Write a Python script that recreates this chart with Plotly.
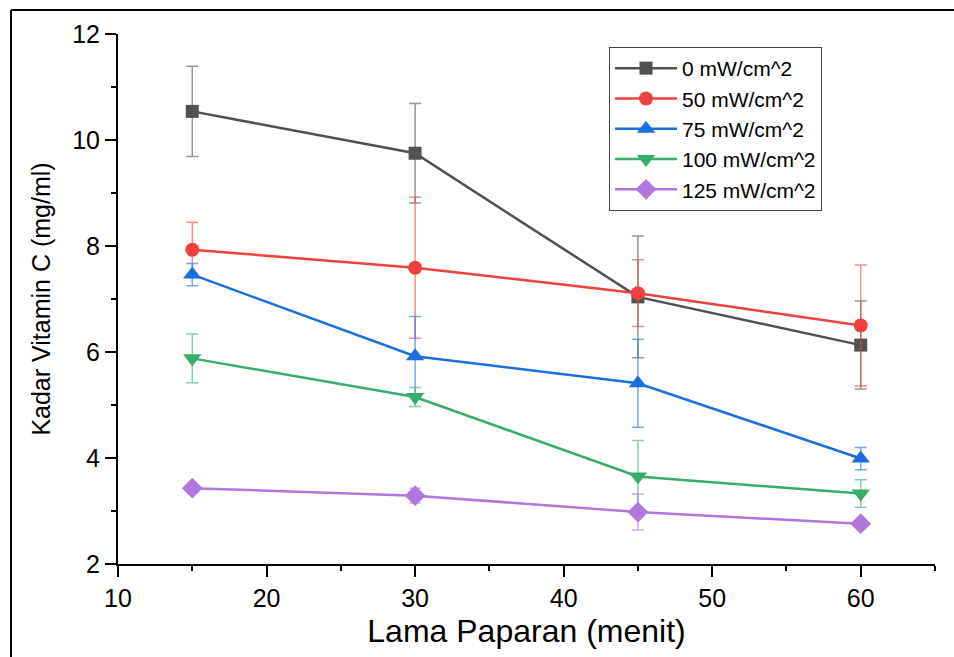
import plotly.graph_objects as go

time_min = [15, 30, 45, 60]
series_names = ["0 mW/cm^2", "50 mW/cm^2", "75 mW/cm^2", "100 mW/cm^2", "125 mW/cm^2"]
vals_0 = [10.54, 9.75, 7.04, 6.13]
err_0 = [0.85, 0.94, 1.15, 0.83]
vals_50 = [7.93, 7.59, 7.11, 6.50]
err_50 = [0.52, 1.33, 0.63, 1.14]
vals_75 = [7.46, 5.92, 5.41, 3.99]
err_75 = [0.21, 0.75, 0.83, 0.21]
vals_100 = [5.88, 5.15, 3.65, 3.33]
err_100 = [0.46, 0.18, 0.68, 0.26]
vals_125 = [3.43, 3.29, 2.98, 2.76]
err_125 = [0.03, 0.14, 0.34, 0.05]

colors = ["#515151", "#F14040", "#1A6FDF", "#37AD6B", "#B177DE"]
err_colors = ["rgba(81,81,81,0.6)", "rgba(241,64,64,0.6)", "rgba(26,111,223,0.6)",
              "rgba(55,173,107,0.6)", "rgba(177,119,222,0.6)"]
symbols = ["square", "circle", "triangle-up", "triangle-down", "diamond"]
sizes = [13, 14, 16, 16, 16]

all_vals = [vals_0, vals_50, vals_75, vals_100, vals_125]
all_errs = [err_0, err_50, err_75, err_100, err_125]

FONT = "Liberation Sans, Arial, sans-serif"

fig = go.Figure()
for name, v, e, c, ec, s, sz in zip(series_names, all_vals, all_errs, colors, err_colors, symbols, sizes):
    fig.add_trace(go.Scatter(
        x=time_min, y=v, name=name, mode="lines+markers",
        line=dict(color=c, width=2.5),
        marker=dict(symbol=s, size=sz, color=c, line=dict(width=0)),
        error_y=dict(type="data", array=e, visible=True, color=ec, thickness=1.5, width=6),
    ))

W, H = 954, 657
ml, mr, mt, mb = 118, 19, 34, 93
pw = W - ml - mr
ph = H - mt - mb

# outer border lines (top and left), in paper coordinates
bx = (11 - ml) / pw
by = (H - mb - 10) / ph
fig.add_shape(type="line", xref="paper", yref="paper", x0=bx, x1=(W - ml) / pw + 0.01,
              y0=by, y1=by, line=dict(color="black", width=2))
fig.add_shape(type="line", xref="paper", yref="paper", x0=bx, x1=bx,
              y0=by, y1=-(mb + 5) / ph, line=dict(color="black", width=2))

fig.update_layout(
    width=W, height=H,
    margin=dict(l=ml, r=mr, t=mt, b=mb),
    paper_bgcolor="white", plot_bgcolor="white",
    font=dict(family=FONT, color="black"),
    showlegend=True,
    legend=dict(
        x=(609 - ml) / pw, y=(H - mb - 47) / ph, xanchor="left", yanchor="top",
        bgcolor="white", bordercolor="#444444", borderwidth=1,
        font=dict(size=21, family=FONT, color="black"),
        tracegroupgap=0, itemwidth=62,
    ),
    xaxis=dict(
        range=[10, 65], tickmode="array", tickvals=[10, 20, 30, 40, 50, 60],
        ticks="outside", ticklen=11, tickwidth=2, tickcolor="black",
        showline=True, linewidth=2, linecolor="black", mirror=False,
        showgrid=False, zeroline=False,
        tickfont=dict(size=25, family=FONT),
        minor=dict(tickvals=[15, 25, 35, 45, 55, 65], ticks="outside", ticklen=5, tickwidth=2, tickcolor="black", showgrid=False),
        title=dict(text="Lama Paparan (menit)", font=dict(size=32, family=FONT), standoff=9),
    ),
    yaxis=dict(
        range=[2, 12], tickmode="array", tickvals=[2, 4, 6, 8, 10, 12],
        ticks="outside", ticklen=11, tickwidth=2, tickcolor="black",
        showline=True, linewidth=2, linecolor="black", mirror=False,
        showgrid=False, zeroline=False,
        tickfont=dict(size=25, family=FONT),
        minor=dict(tickvals=[3, 5, 7, 9, 11], ticks="outside", ticklen=5, tickwidth=2, tickcolor="black", showgrid=False),
        title=dict(text="Kadar Vitamin C (mg/ml)", font=dict(size=25, family=FONT), standoff=14),
    ),
)

fig.write_html("out.html")
